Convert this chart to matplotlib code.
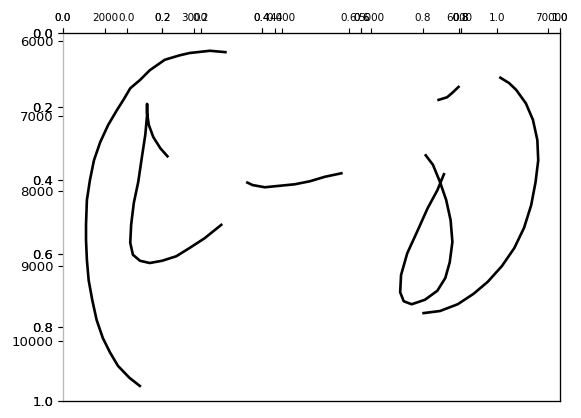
#trace chart: several strokes on a data axes laid over plain 0..1 axes

import numpy as np
import matplotlib
matplotlib.use('Agg')
import matplotlib.pyplot as plt

#strokes (x, y in data units)
arc_x=[3370,3180,2950,2840,2670,2500,2390,2280,2200,2130,2030,1940,1870,1825,1790,1780,1780,1790,1810,1850,1900,1970,2050,2140,2270,2400]
arc_y=[6150,6130,6160,6190,6250,6390,6520,6630,6790,6920,7120,7350,7590,7850,8120,8450,8650,8920,9190,9450,9720,9960,10150,10330,10490,10610]

hook_x=[2710,2620,2540,2490,2470,2470,2470,2450,2410,2370,2320,2290,2280,2310,2390,2500,2640,2800,2950,3120,3320]
hook_y=[7550,7430,7280,7120,6960,6840,6990,7250,7560,7880,8160,8450,8690,8850,8930,8960,8930,8870,8760,8630,8440]

dash_x=[3590,3660,3800,3970,4140,4310,4480,4680]
dash_y=[7880,7920,7950,7930,7910,7870,7810,7760]

loop_x=[5610,5700,5780,5850,5900,5920,5890,5840,5750,5610,5460,5370,5330,5340,5410,5530,5640,5750,5830]
loop_y=[7510,7650,7880,8120,8390,8680,8950,9160,9330,9450,9510,9470,9350,9120,8830,8520,8230,7990,7760]

tick_x=[5750,5860,5920,6000]
tick_y=[6790,6750,6690,6600]

bow_x=[6450,6560,6640,6750,6830,6880,6890,6860,6810,6730,6620,6480,6320,6160,5980,5780,5580]
bow_y=[6480,6560,6650,6830,7050,7320,7590,7880,8190,8490,8760,9000,9210,9370,9510,9600,9630]

strokes=[(arc_x,arc_y),(hook_x,hook_y),(dash_x,dash_y),(loop_x,loop_y),(tick_x,tick_y),(bow_x,bow_y)]

xticks=[2000,3000,4000,5000,6000,7000]
yticks=[6000,7000,8000,9000,10000]
unit_ticks=[0.0,0.2,0.4,0.6,0.8,1.0]

W,H=581,418
pos=[63/W,(H-401)/H,(560-63)/W,(401-33)/H]
pos_small=[127/W,(H-401)/H,(497-127)/W,(401-33)/H]

fig=plt.figure(figsize=(W/100,H/100),dpi=100)

def style(ax):
	ax.xaxis.tick_top()
	ax.tick_params(axis='x',labelsize=7.5,length=3.5,pad=4)
	ax.tick_params(axis='y',labelsize=9.5,length=3.5)
	for s in ['top','right','bottom']:
		ax.spines[s].set_color('black')
	ax.spines['left'].set_color('#b8b8b8')

#two plain unit axes on top of each other
for i in range(2):
	ax0=fig.add_axes(pos)
	style(ax0)
	ax0.set_xlim(0,1)
	ax0.set_ylim(1,0)
	ax0.set_xticks(unit_ticks)
	ax0.set_yticks(unit_ticks)
	if i:
		ax0.patch.set_alpha(0)

#narrower unit axes, only its x ticks show
ax3=fig.add_axes(pos_small)
ax3.patch.set_alpha(0)
ax3.xaxis.tick_top()
ax3.tick_params(axis='x',labelsize=7.5,length=3.5,pad=4)
ax3.set_xlim(0,1)
ax3.set_xticks(unit_ticks)
ax3.set_yticks([])
for s in ax3.spines.values():
	s.set_visible(False)

#data axes
ax=fig.add_axes(pos)
ax.patch.set_alpha(0)
style(ax)
for xs,ys in strokes:
	ax.plot(xs,ys,color='black',lw=1.9,solid_capstyle='butt')
ax.set_xlim(1520,7136)
ax.set_ylim(10800,5893)
ax.set_xticks(xticks)
ax.set_yticks(yticks)

fig.savefig('out.png',dpi=100)
